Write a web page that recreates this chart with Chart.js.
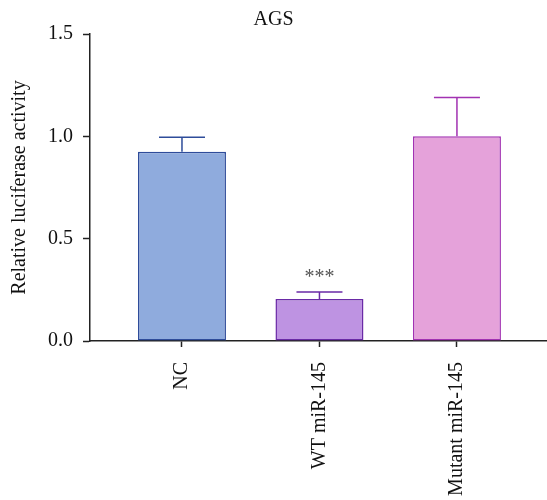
<!DOCTYPE html>
<html>
<head>
<meta charset="utf-8">
<script src="https://cdn.jsdelivr.net/npm/chart.js@4"></script>
<style>
    body{margin:0;background:#fff;}
    .box{width:547px;height:500px;}
</style>
</head>
<body>
<div class="box"><canvas id="myChart"></canvas></div>
<script>
const groups = ['NC', 'WT miR-145', 'Mutant miR-145']
const means = [0.925, 0.205, 1.0]
const errors = [0.07, 0.035, 0.19]
const stars = ['', '***', '']
const yTicks = [0, 0.5, 1.0, 1.5]

const fills = ['#8FABDD', '#BE93E2', '#E5A2DA']
const edges = ['#2E4C9A', '#6A2AA6', '#A232B2']
const font = "'Liberation Serif', 'Times New Roman', serif"

// upward error bars + significance stars on top of each bar
const errorBars = {
    id: 'errorBars',
    afterDatasetsDraw(chart){
        const ctx = chart.ctx
        const x = chart.scales.x
        const y = chart.scales.y
        means.forEach(function(m, i){
            const cx = x.getPixelForValue(i)
            const yTop = y.getPixelForValue(m + errors[i])
            const yBar = y.getPixelForValue(m)
            ctx.save()
            ctx.strokeStyle = edges[i]
            ctx.lineWidth = 1.5
            ctx.beginPath()
            ctx.moveTo(cx, yBar)
            ctx.lineTo(cx, yTop)
            ctx.moveTo(cx - 23, yTop)
            ctx.lineTo(cx + 23, yTop)
            ctx.stroke()
            if (stars[i]){
                ctx.fillStyle = '#555'
                ctx.font = '20px ' + font
                ctx.textAlign = 'center'
                ctx.textBaseline = 'alphabetic'
                ctx.fillText(stars[i], cx, yTop - 9)
            }
            ctx.restore()
        })
    }
}

const ctx = document.getElementById('myChart').getContext('2d')

const config = {
    type: 'bar',
    data: {
        datasets: [{
            data: means.map((v, i) => ({x: i, y: v})),
            backgroundColor: fills,
            borderColor: edges,
            borderWidth: 1.5,
            borderSkipped: false,
            categoryPercentage: 0.8,
            barPercentage: 0.8,
        }]
    },
    plugins: [errorBars],
    options: {
        responsive: true,
        maintainAspectRatio: false,
        animation: false,
        layout: {padding: {left: 0, right: 0, top: 0, bottom: 0}},
        plugins: {
            legend: {display: false},
            tooltip: {enabled: false},
            title: {
                display: true,
                text: 'AGS',
                color: '#111',
                font: {family: font, size: 20, weight: 'normal'},
                padding: {top: 8, bottom: 2},
            },
        },
        scales: {
            x: {
                type: 'linear',
                offset: false,
                min: -0.669,
                max: 2.655,
                afterBuildTicks: axis => { axis.ticks = groups.map((g, i) => ({value: i})) },
                afterFit: axis => { axis.height = 159 },
                ticks: {
                    autoSkip: false,
                    minRotation: 90,
                    maxRotation: 90,
                    padding: 15,
                    color: '#111',
                    font: {family: font, size: 20},
                    callback: v => groups[v] || '',
                },
                grid: {
                    offset: false,
                    drawOnChartArea: false,
                    drawTicks: true,
                    tickLength: 6,
                    tickWidth: 1.5,
                    color: '#222',
                },
                border: {display: true, color: '#222', width: 1.5},
            },
            y: {
                min: 0,
                max: 1.5,
                afterBuildTicks: axis => { axis.ticks = yTicks.map(v => ({value: v})) },
                afterFit: axis => { axis.width = 90 },
                ticks: {
                    padding: 10,
                    color: '#111',
                    font: {family: font, size: 20},
                    callback: v => v.toFixed(1),
                },
                title: {
                    display: true,
                    text: 'Relative luciferase activity',
                    color: '#111',
                    font: {family: font, size: 20},
                    padding: {top: 8, bottom: 0},
                },
                grid: {
                    drawOnChartArea: false,
                    drawTicks: true,
                    tickLength: 7,
                    tickWidth: 1.5,
                    color: '#222',
                },
                border: {display: true, color: '#222', width: 1.5},
            }
        }
    }
}

const myChart = new Chart(ctx, config)
</script>
</body>
</html>
